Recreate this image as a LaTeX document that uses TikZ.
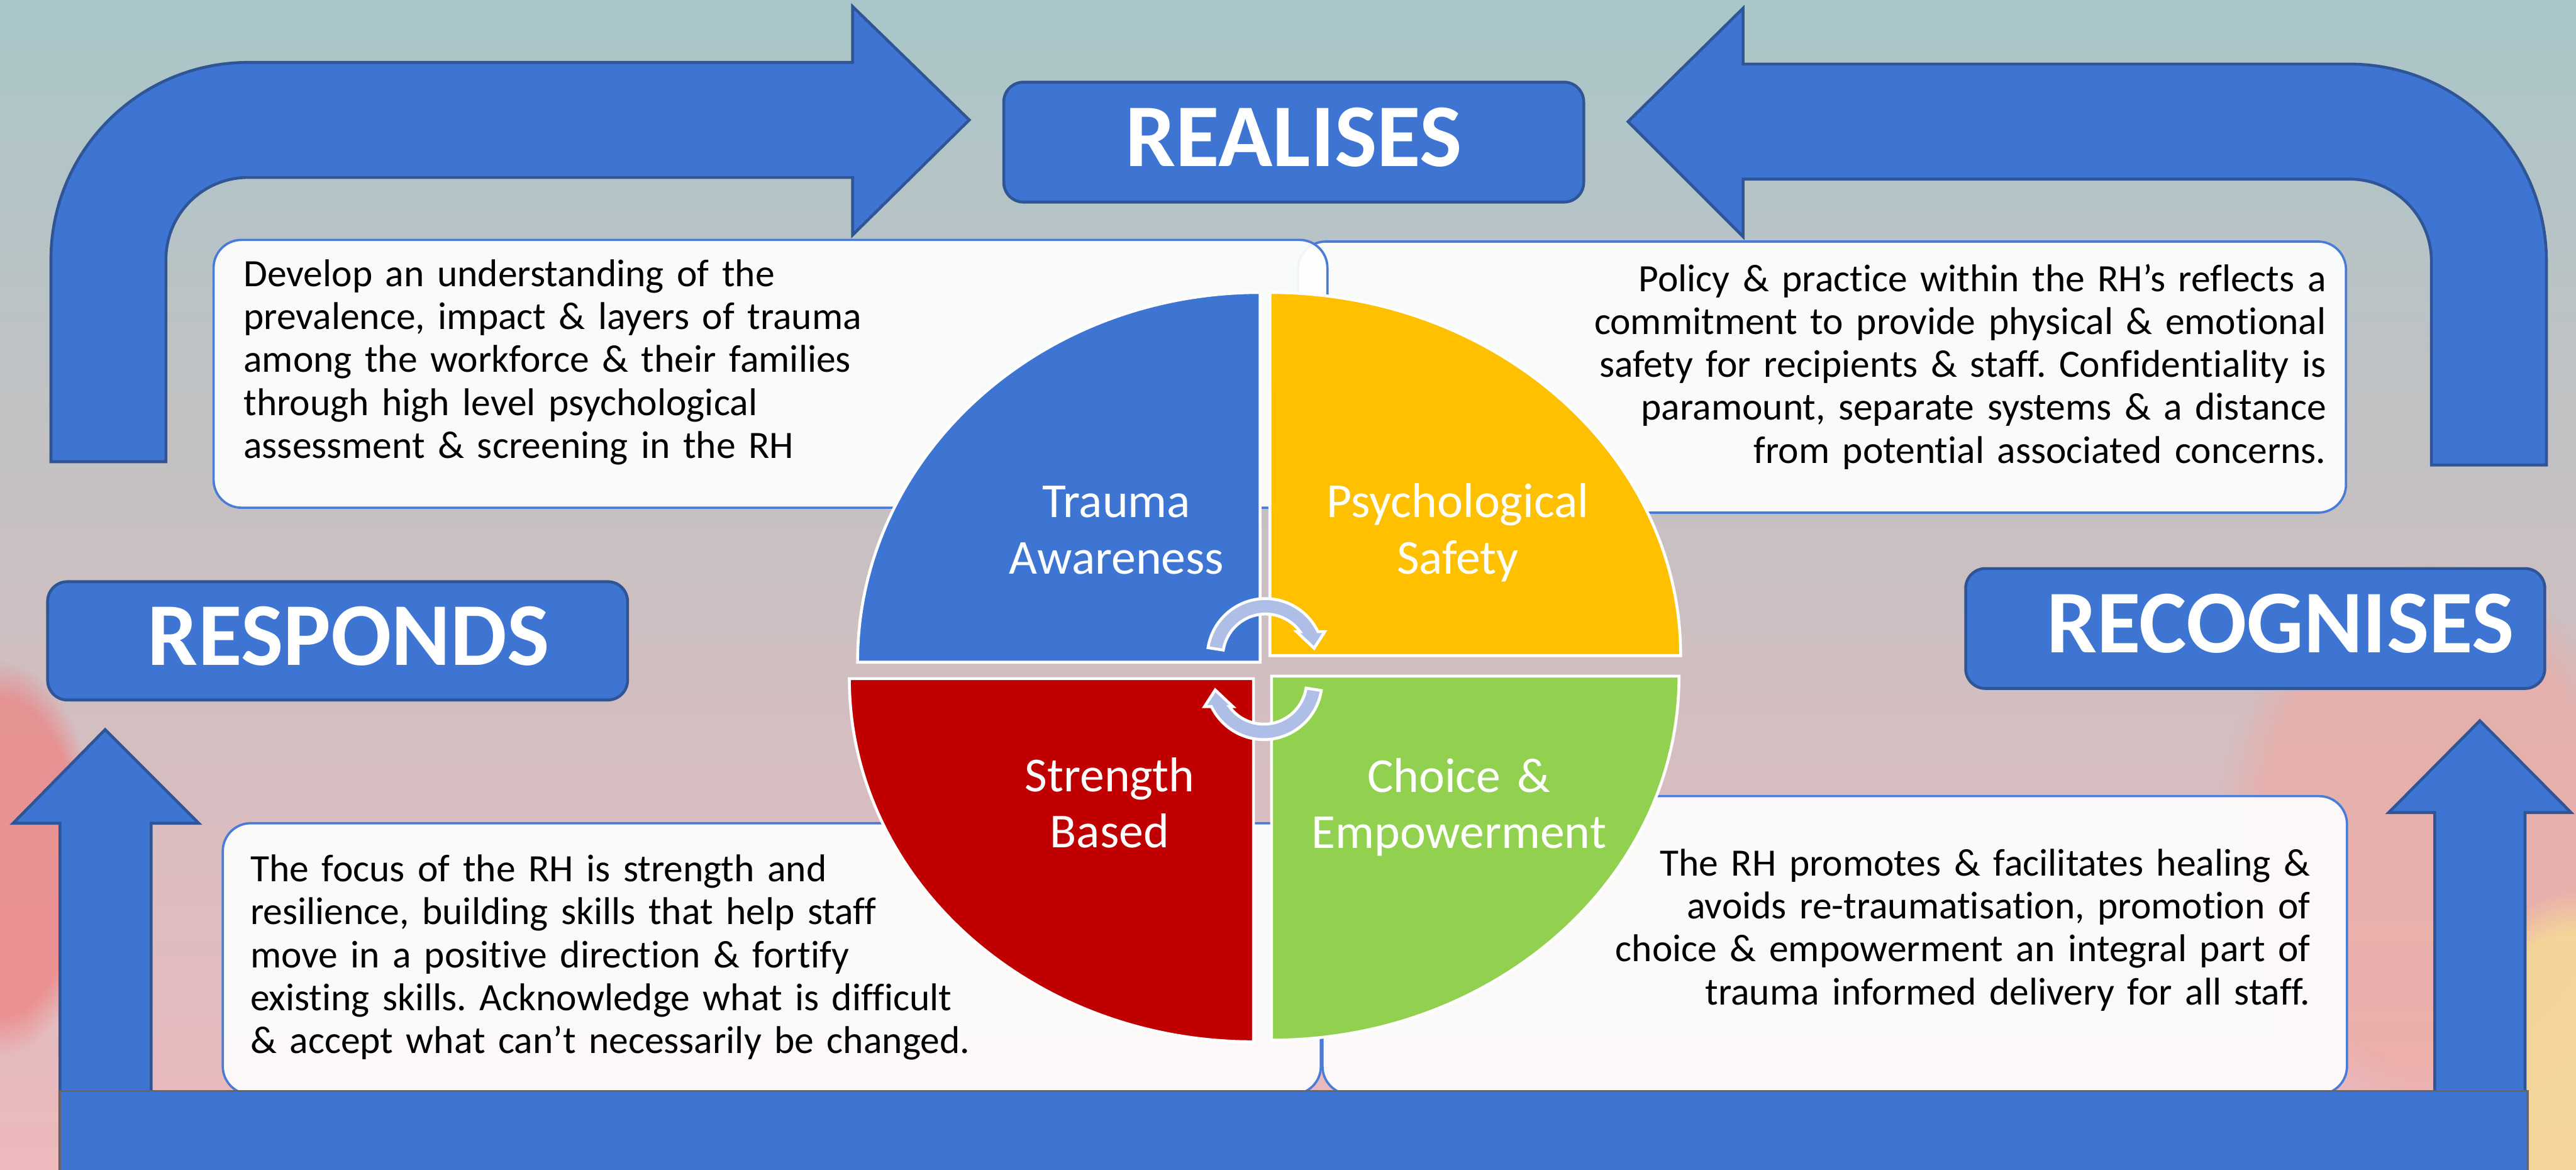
\documentclass[tikz,border=0pt]{standalone}
\usepackage{fontspec}
\setmainfont{Carlito}[Ligatures=NoCommon]
\frenchspacing
\usetikzlibrary{fadings}

\begin{document}
\begin{tikzpicture}[
    x={(0.01cm,0cm)}, y={(0cm,0.01cm)},
    blockarrow/.style={fill=mainblue, draw=edgeblue, line width=0.5pt},
    headbox/.style={fill=mainblue, draw=edgeblue, line width=0.5pt, rounded corners=0.12cm},
    headtext/.style={text=white, inner sep=0pt, font=\fontsize{15.5}{18}\selectfont\bfseries},
    textbox/.style={fill=white, fill opacity=0.92, draw=boxedge, line width=0.4pt, rounded corners=0.17cm},
    bodytext/.style={text=black, inner sep=0pt, text width=6.6cm, font=\fontsize{6.7}{7.43}\selectfont},
    quarter/.style={draw=white, line width=0.5pt},
    quarterlabel/.style={text=white, inner sep=0pt, text width=2.4cm, align=center, font=\fontsize{8.45}{9.76}\selectfont},
    cyclearrow/.style={fill=cyclefill, draw=white, line width=0.5pt},
  ]
    \definecolor{mainblue}{HTML}{3E75D2}
    \definecolor{edgeblue}{HTML}{2F5597}
    \definecolor{boxedge}{HTML}{4A7BD6}
    \definecolor{quadblue}{HTML}{3E75D2}
    \definecolor{quadyellow}{HTML}{FFC000}
    \definecolor{quadred}{HTML}{C00000}
    \definecolor{quadgreen}{HTML}{92D050}
    \definecolor{cyclefill}{HTML}{AFBEE6}
    \definecolor{bgtop}{HTML}{A9C6C8}
    \definecolor{bgmid}{HTML}{D8CDD2}
    \definecolor{bgbottom}{HTML}{EDB9BC}
    \definecolor{blobred}{HTML}{EE8080}
    \definecolor{blobsalmon}{HTML}{F0A8A0}
    \definecolor{blobyellow}{HTML}{F6D898}

    \useasboundingbox (0,0) rectangle (1568,712);

    % -------- background wash --------
    \shade[top color=bgtop, middle color=bgmid, bottom color=bgbottom] (0,0) rectangle (1568,712);
    \fill[blobred, opacity=0.7, path fading=circle with fuzzy edge 20 percent] (0,190) ellipse [x radius=60, y radius=120];
    \fill[blobsalmon, opacity=0.6, path fading=circle with fuzzy edge 20 percent] (1480,200) ellipse [x radius=130, y radius=170];
    \fill[blobyellow, opacity=0.9, path fading=circle with fuzzy edge 20 percent] (1568,40) ellipse [x radius=80, y radius=130];

    % -------- bent arrows over the top --------
    \draw[blockarrow] (31,431) -- (31,554) arc[start angle=180, end angle=90, radius=120]
      -- (519,674) -- (519,708) -- (590,639) -- (519,569) -- (519,604) -- (151,604)
      arc[start angle=90, end angle=180, radius=50] -- (101,431) -- cycle;
    \draw[blockarrow] (1550,429) -- (1550,553) arc[start angle=0, end angle=90, radius=120]
      -- (1061,673) -- (1061,707) -- (991,638) -- (1061,568) -- (1061,603) -- (1430,603)
      arc[start angle=90, end angle=0, radius=50] -- (1480,429) -- cycle;

    % -------- upward arrows at the sides --------
    \draw[blockarrow] (36.5,0) -- (36.5,211) -- (8,211) -- (64,268) -- (121,211) -- (92,211) -- (92,0) -- cycle;
    \draw[blockarrow] (1482,0) -- (1482,217.5) -- (1454,217.5) -- (1509.5,273.4) -- (1565,217.5) -- (1537,217.5) -- (1537,0) -- cycle;

    % -------- heading boxes --------
    \draw[headbox] (611,589) rectangle (964,662);
    \draw[headbox] (29,286) rectangle (382,358);
    \draw[headbox] (1196.5,293) rectangle (1549,366);
    \node[headtext, anchor=base] (realises) at (787.5,610.8) {REALISES};
    \node[headtext, anchor=base west] (responds) at (89.2,307.1) {RESPONDS};
    \node[headtext, anchor=base east] (recognises) at (1531,315) {RECOGNISES};

    % -------- text panels --------
    \draw[textbox] (790,400) rectangle (1428,565);
    \draw[textbox] (130,403) rectangle (808,566);
    \draw[textbox] (805,46) rectangle (1428.6,227.5);
    \draw[textbox] (135.6,46) rectangle (804,211);

    \node[bodytext, anchor=base west, align=left] (awaretext) at (147.6,537.7)
      {Develop an understanding of the\\
       prevalence, impact \& layers of trauma\\
       among the workforce \& their families\\
       through high level psychological\\
       assessment \& screening in the RH};
    \node[bodytext, anchor=base east, align=right] (safetytext) at (1416.6,534.7)
      {Policy \& practice within the RH’s reflects a\\
       commitment to provide physical \& emotional\\
       safety for recipients \& staff. Confidentiality is\\
       paramount, separate systems \& a distance\\
       from potential associated concerns.};
    \node[bodytext, anchor=base west, align=left] (strengthtext) at (151.7,175.4)
      {The focus of the RH is strength and\\
       resilience, building skills that help staff\\
       move in a positive direction \& fortify\\
       existing skills. Acknowledge what is difficult\\
       \& accept what can’t necessarily be changed.};
    \node[bodytext, anchor=base east, align=right] (choicetext) at (1407,179)
      {The RH promotes \& facilitates healing \&\\
       avoids re-traumatisation, promotion of\\
       choice \& empowerment an integral part of\\
       trauma informed delivery for all staff.};

    % -------- base bar --------
    \draw[fill=mainblue, draw=black!60, line width=0.4pt] (36.5,-5) rectangle (1538.5,48);

    % -------- four quarters of the wheel --------
    \foreach \cx/\cy/\rx/\ry/\sa/\ea/\col in {767/309/245/225/180/90/quadblue,
        773/313/250/221/90/0/quadyellow, 763/299/246/221/180/270/quadred,
        774/300.5/248/221.5/0/-90/quadgreen} {
      \draw[quarter, fill=\col] (\cx,\cy) -- +({\sa}:{\rx} and {\ry})
        arc[start angle=\sa, end angle=\ea, x radius=\rx, y radius=\ry] -- cycle;
    }
    \node[quarterlabel, anchor=base] (trauma) at (679.6,397.1) {Trauma\\Awareness};
    \node[quarterlabel, anchor=base] (psych) at (887.4,397.1) {Psychological\\Safety};
    \node[quarterlabel, anchor=base] (strength) at (675.4,230.4) {Strength\\Based};
    \node[quarterlabel, anchor=base] (choice) at (888,230) {Choice \&\\Empowerment};

    % -------- turning arrows in the middle --------
    \begin{scope}[shift={(770.3,312.3)}]
      \draw[cyclearrow] (171:35.4) arc[start angle=171, end angle=25.6, radius=35.4]
        -- (36.1,15.3) -- (29.6,5.2) -- (18.9,15.3) -- (36:26)
        arc[start angle=36, end angle=171, radius=26] -- cycle;
    \end{scope}
    \begin{scope}[shift={(769.3,297.3)}, rotate=180]
      \draw[cyclearrow] (171:35.4) arc[start angle=171, end angle=25.6, radius=35.4]
        -- (36.1,15.3) -- (29.6,5.2) -- (18.9,15.3) -- (36:26)
        arc[start angle=36, end angle=171, radius=26] -- cycle;
    \end{scope}
  \end{tikzpicture}
\end{document}
